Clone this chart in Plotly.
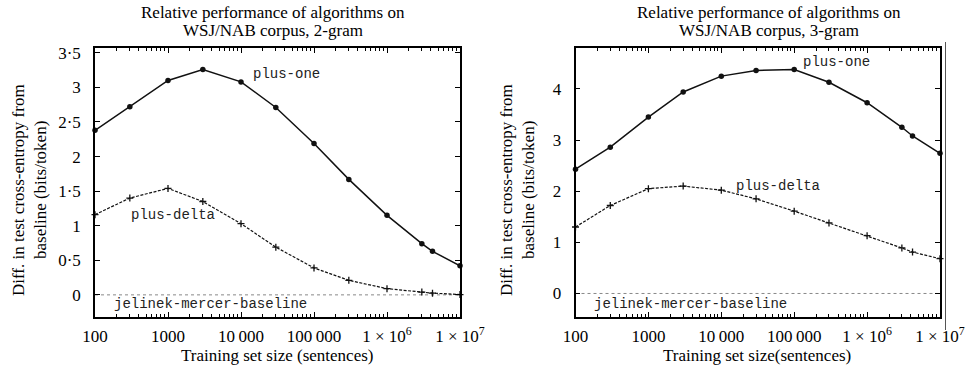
import math
import plotly.graph_objects as go

# ---------------- data ----------------
sizes = [100, 300, 1000, 3000, 10000, 30000, 100000, 300000, 1e6, 3e6, 4.2e6, 1e7]

plus_one_2gram = [2.38, 2.72, 3.10, 3.26, 3.08, 2.71, 2.19, 1.67, 1.15, 0.74, 0.63, 0.42]
plus_delta_2gram = [1.16, 1.40, 1.54, 1.35, 1.03, 0.69, 0.39, 0.21, 0.09, 0.04, 0.025, 0.005]

plus_one_3gram = [2.43, 2.86, 3.45, 3.94, 4.25, 4.36, 4.38, 4.13, 3.73, 3.25, 3.08, 2.74]
plus_delta_3gram = [1.30, 1.72, 2.05, 2.10, 2.02, 1.85, 1.61, 1.38, 1.13, 0.89, 0.81, 0.68]

baseline = [0] * len(sizes)

x_tickvals = [100, 1000, 10000, 100000, 1e6, 1e7]
x_ticktext = ["100", "1000", "10\u2009000", "100\u2009000", "1 \u00d7 10<sup>6</sup>", "1 \u00d7 10<sup>7</sup>"]
x_minor = [m * 10 ** e for e in range(2, 7) for m in range(2, 10)]

y_tickvals_2 = [0, 0.5, 1, 1.5, 2, 2.5, 3, 3.5]
y_ticktext_2 = ["0", "0\u00b75", "1", "1\u00b75", "2", "2\u00b75", "3", "3\u00b75"]
y_tickvals_3 = [0, 1, 2, 3, 4]
y_ticktext_3 = ["0", "1", "2", "3", "4"]

titles = [["Relative performance of algorithms on", "WSJ/NAB corpus, 2-gram"],
          ["Relative performance of algorithms on", "WSJ/NAB corpus, 3-gram"]]
x_titles = ["Training set size (sentences)", "Training set size(sentences)"]
y_title_lines = ["Diff. in test cross-entropy from", "baseline (bits/token)"]

# ---------------- figure ----------------
W, H = 967, 368
SERIF = "Liberation Serif"
MONO = "Liberation Mono"

fig = go.Figure()

def add_panel(xa, ya, one, delta):
    fig.add_trace(go.Scatter(x=sizes, y=baseline, xaxis=xa, yaxis=ya, mode="lines",
                             line=dict(color="#888", width=1, dash="dot"),
                             showlegend=False, hoverinfo="skip"))
    fig.add_trace(go.Scatter(x=sizes, y=delta, xaxis=xa, yaxis=ya, mode="lines+markers",
                             line=dict(color="#111", width=1.2, dash="3px,1.5px"),
                             marker=dict(symbol="cross-thin", size=5, line=dict(width=1.3, color="#111")),
                             cliponaxis=False, showlegend=False))
    fig.add_trace(go.Scatter(x=sizes, y=one, xaxis=xa, yaxis=ya, mode="lines+markers",
                             line=dict(color="#111", width=1.5),
                             marker=dict(symbol="circle", size=5.5, color="#111"),
                             cliponaxis=False, showlegend=False))

add_panel("x", "y", plus_one_2gram, plus_delta_2gram)
add_panel("x2", "y2", plus_one_3gram, plus_delta_3gram)

def px(v):
    return v / W

def py(v):
    return 1 - v / H

ydom = [py(317), py(48)]

xaxis_common = dict(type="log", range=[2, 7], tickmode="array", tickvals=x_tickvals,
                    ticktext=x_ticktext, ticks="inside", ticklen=5, tickwidth=1,
                    tickcolor="black", mirror="allticks", showline=True, linecolor="black",
                    linewidth=1.5, showgrid=False, zeroline=False,
                    minor=dict(tickmode="array", tickvals=x_minor, ticks="inside", ticklen=3,
                               tickcolor="black", showgrid=False),
                    tickfont=dict(family=SERIF, size=17, color="black"),
                    ticklabelstandoff=3, automargin=False)
yaxis_common = dict(ticks="inside", ticklen=5, tickwidth=1, tickcolor="black",
                    mirror="allticks", showline=True, linecolor="black", linewidth=1.5,
                    showgrid=False, zeroline=False, tickmode="array",
                    tickfont=dict(family=SERIF, size=17, color="black"),
                    ticklabelstandoff=9, automargin=False)

fig.update_layout(
    width=W, height=H, margin=dict(l=0, r=0, t=0, b=0),
    paper_bgcolor="white", plot_bgcolor="white",
    font=dict(family=SERIF, color="black"),
    xaxis=dict(domain=[px(95), px(460)], anchor="y", **xaxis_common),
    xaxis2=dict(domain=[px(575.5), px(940)], anchor="y2", **xaxis_common),
    yaxis=dict(domain=ydom, anchor="x", range=[-0.32, 3.57],
               tickvals=y_tickvals_2, ticktext=y_ticktext_2, **yaxis_common),
    yaxis2=dict(domain=ydom, anchor="x2", range=[-0.46, 4.8],
                tickvals=y_tickvals_3, ticktext=y_ticktext_3, **yaxis_common),
)

ann = []
# titles
for cx, lines in zip([273, 769], titles):
    for ly, t in zip([12, 30], lines):
        ann.append(dict(text=t, x=px(cx), y=py(ly), xref="paper", yref="paper",
                        xanchor="center", yanchor="middle", showarrow=False,
                        font=dict(family=SERIF, size=17, color="black")))
# x titles
for cx, t in zip([277, 757], x_titles):
    ann.append(dict(text=t, x=px(cx), y=py(355), xref="paper", yref="paper",
                    xanchor="center", yanchor="middle", showarrow=False,
                    font=dict(family=SERIF, size=17, color="black")))
# y titles (two rotated lines each)
for cxs in [[18, 40], [506, 528]]:
    for cx, t in zip(cxs, y_title_lines):
        ann.append(dict(text=t, x=px(cx), y=py(190), xref="paper", yref="paper",
                        xanchor="center", yanchor="middle", showarrow=False, textangle=-90,
                        font=dict(family=SERIF, size=17, color="black")))

# series labels (data coordinates)
labels = [("x", "y", 42600, 3.19, "plus-one"),
          ("x", "y", 1180, 1.15, "plus-delta"),
          ("x", "y", 3800, -0.13, "jelinek-mercer-baseline"),
          ("x2", "y2", 380000, 4.52, "plus-one"),
          ("x2", "y2", 60000, 2.10, "plus-delta"),
          ("x2", "y2", 3800, -0.20, "jelinek-mercer-baseline")]
for xr, yr, xv, yv, t in labels:
    ann.append(dict(text=t, x=math.log10(xv), y=yv, xref=xr, yref=yr,
                    xanchor="center", yanchor="middle", showarrow=False,
                    font=dict(family=MONO, size=14, color="#222")))

fig.update_layout(annotations=ann)

# scan artefact: thin vertical rule to the right of the second panel
fig.add_shape(type="line", xref="paper", yref="paper", x0=px(945.5), x1=px(945.5),
              y0=py(42), y1=py(330), line=dict(color="#555", width=1))

fig.write_html("out.html")
